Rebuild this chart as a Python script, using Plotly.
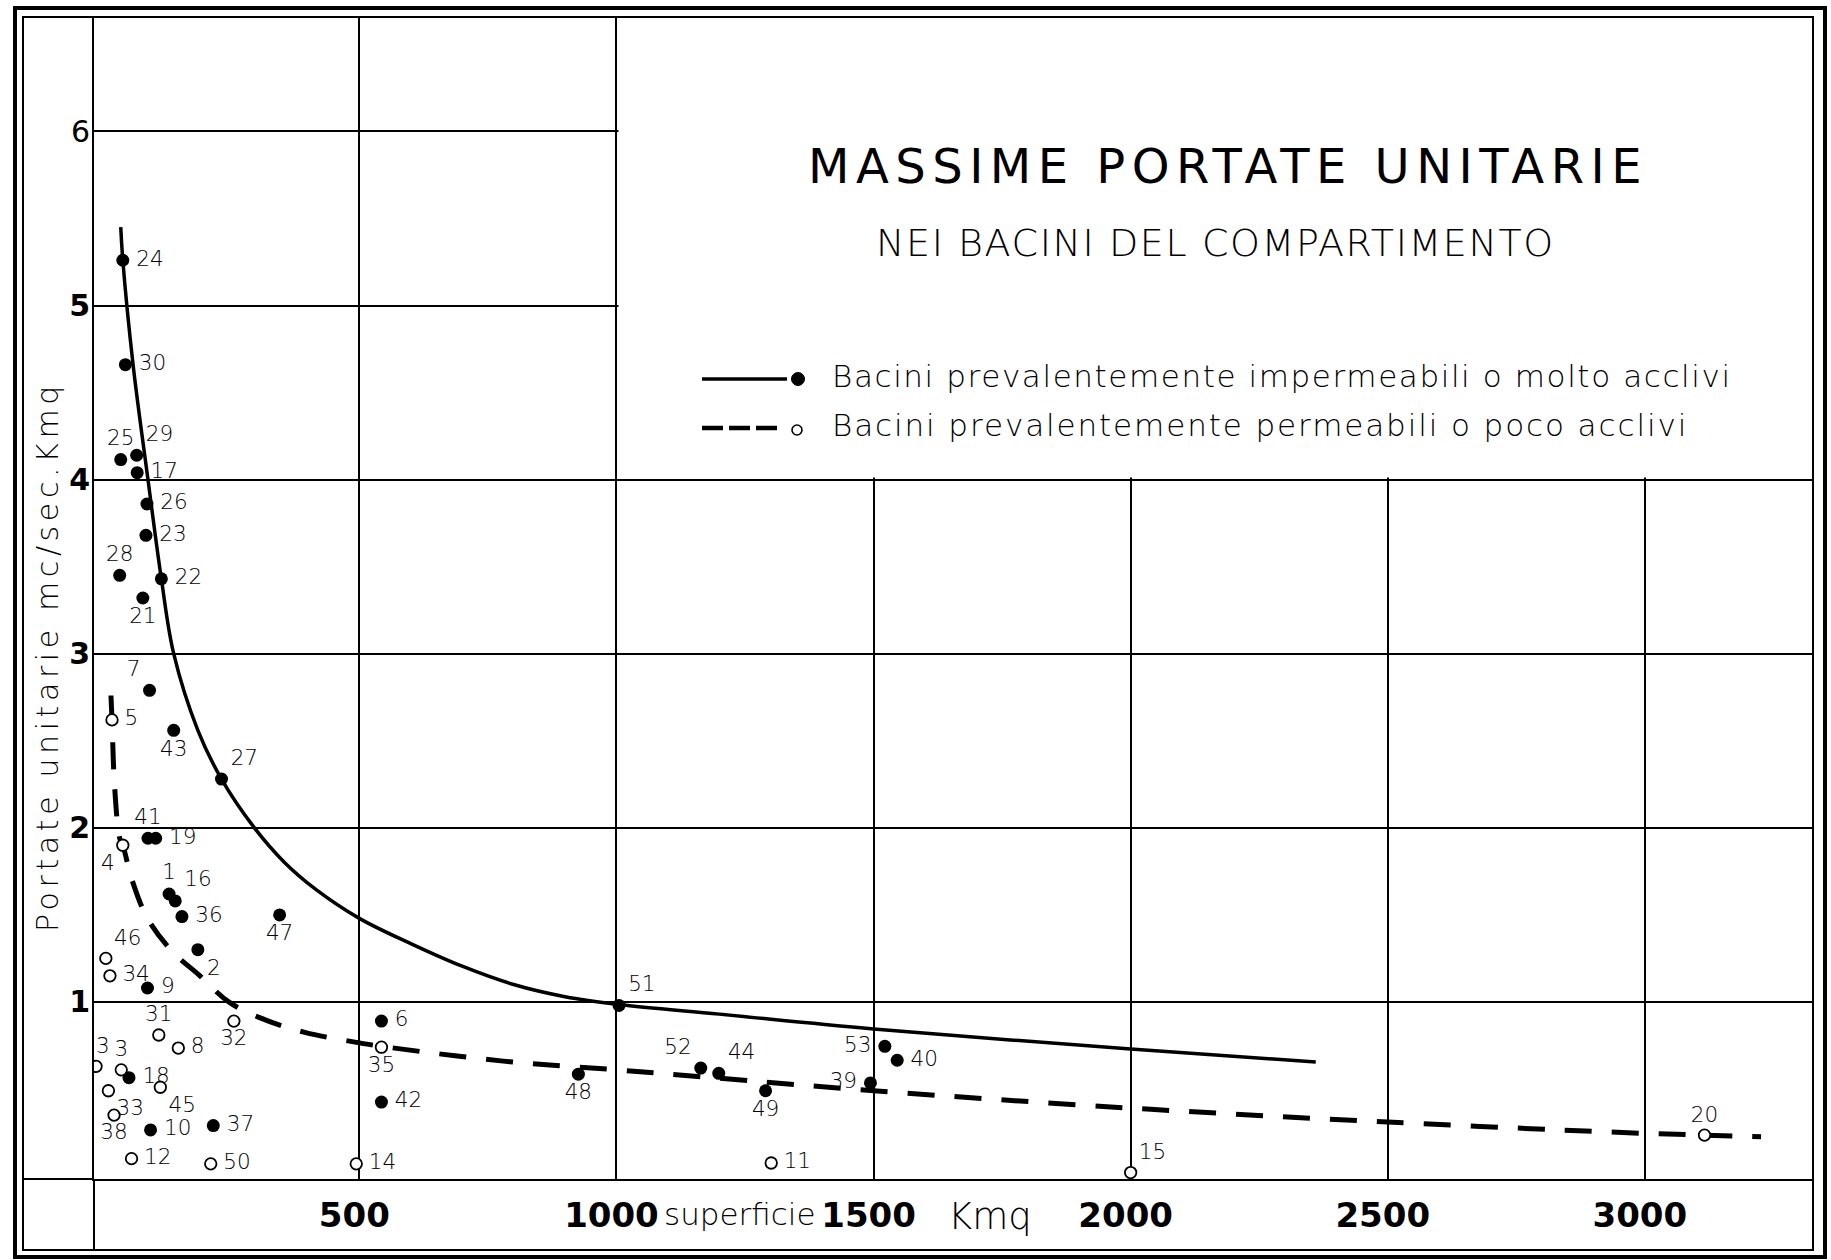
import plotly.graph_objects as go

# ---------------------------------------------------------------------------
# Data: maximum unit discharge (mc/sec per Kmq) against basin area (Kmq)
# ---------------------------------------------------------------------------
# Mostly impermeable or very steep basins (filled dots)
imp_ids = [24, 30, 25, 29, 17, 26, 23, 28, 22, 21, 7, 43, 27, 41, 19, 1, 16, 36,
           47, 2, 9, 18, 10, 37, 6, 42, 48, 51, 52, 44, 49, 53, 40, 39]
imp_area = [40, 45, 36, 67, 68, 87, 85, 34, 115, 79, 92, 139, 232, 89, 104, 130,
            142, 155, 345, 186, 88, 52, 94, 216, 543, 543, 926, 1005, 1164, 1199,
            1290, 1522, 1546, 1494]
imp_q = [5.26, 4.66, 4.115, 4.14, 4.04, 3.86, 3.68, 3.45, 3.43, 3.32, 2.79, 2.56,
         2.28, 1.94, 1.94, 1.62, 1.58, 1.49, 1.50, 1.30, 1.08, 0.565, 0.265, 0.29,
         0.89, 0.425, 0.585, 0.98, 0.62, 0.59, 0.49, 0.745, 0.665, 0.535]

# Mostly permeable or gently sloping basins (open circles)
perm_ids = [5, 4, 46, 34, 31, 32, 8, 13, 3, 33, 45, 38, 12, 50, 14, 35, 11, 15, 20]
perm_area = [19, 40, 7, 15, 110, 256, 148, -12, 37, 12, 113, 23, 57, 211, 494, 543,
             1301, 2000, 3116]
perm_q = [2.62, 1.90, 1.25, 1.15, 0.81, 0.89, 0.735, 0.63, 0.61, 0.49, 0.51, 0.35,
          0.10, 0.07, 0.07, 0.74, 0.075, 0.02, 0.235]

# Envelope curves
imp_curve_area = [36, 40, 60, 89, 115, 139, 186, 232, 296, 355, 416, 500, 600, 700,
                  800, 900, 1005, 1200, 1500, 2000, 2360]
imp_curve_q = [5.45, 5.26, 4.66, 4.0, 3.43, 3.0, 2.56, 2.28, 2.0, 1.80, 1.645, 1.48,
               1.335, 1.205, 1.10, 1.03, 0.985, 0.93, 0.845, 0.73, 0.655]

perm_curve_area = [17, 19, 24, 34, 40, 58, 88, 136, 188, 246, 306, 394, 500, 543,
                   780, 1000, 1185, 1500, 2000, 2500, 3000, 3116, 3226]
perm_curve_q = [2.76, 2.62, 2.24, 1.94, 1.90, 1.70, 1.48, 1.29, 1.155, 1.0, 0.91,
                0.825, 0.765, 0.745, 0.66, 0.61, 0.565, 0.49, 0.39, 0.31, 0.245,
                0.235, 0.225]

x_ticks = [500, 1000, 1500, 2000, 2500, 3000]
y_ticks = [1, 2, 3, 4, 5, 6]

# Where each basin number sits relative to its dot
label_side = {
    24: "middle right", 30: "middle right", 25: "top center", 29: "top right",
    17: "middle right", 26: "middle right", 23: "middle right", 28: "top center",
    22: "middle right", 21: "bottom center", 7: "top left", 43: "bottom center",
    27: "top right", 41: "top center", 19: "middle right", 1: "top center",
    16: "top right", 36: "middle right", 47: "bottom center", 2: "bottom right",
    9: "middle right", 18: "middle right", 10: "middle right", 37: "middle right",
    6: "middle right", 42: "middle right", 48: "bottom center", 51: "top right",
    52: "top left", 44: "top right", 49: "bottom center", 53: "middle left",
    40: "middle right", 39: "middle left",
    5: "middle right", 4: "bottom left", 46: "top right", 34: "middle right",
    31: "top center", 32: "bottom center", 8: "middle right", 13: "top center",
    3: "top center", 33: "bottom right", 45: "bottom right", 38: "bottom center",
    12: "middle right", 50: "middle right", 14: "middle right", 35: "bottom center",
    11: "middle right", 15: "top right", 20: "top center",
}

# ---------------------------------------------------------------------------
# Page geometry (pixels)
# ---------------------------------------------------------------------------
W, H = 1831, 1260
PL, PR, PT, PB = 94, 1813, 17, 1179          # plotting area
INNER = (23, 17, 1813, 1250)                  # thin inner frame
OUTER = (15, 8, 1825, 1257)                   # heavy outer frame
X_RANGE = [-16, 3327]
Y_RANGE = [-0.017, 6.657]


def px(xp):
    return (xp - PL) / (PR - PL)


def py(yp):
    return (PB - yp) / (PB - PT)


def padded(num, side):
    # a thin space keeps side labels clear of their dot
    if side == "middle right":
        return "\u2009" + str(num)
    if side == "middle left":
        return str(num) + "\u2009"
    return str(num)


FONT = "DejaVu Sans"
INK = "black"

fig = go.Figure()

fig.add_trace(go.Scatter(
    x=imp_curve_area, y=imp_curve_q, mode="lines",
    line=dict(color=INK, width=3.5, shape="spline", smoothing=1.0),
    hoverinfo="skip", showlegend=False))

fig.add_trace(go.Scatter(
    x=perm_curve_area, y=perm_curve_q, mode="lines",
    line=dict(color=INK, width=5, dash="27px,20px", shape="spline", smoothing=1.0),
    hoverinfo="skip", showlegend=False))

label_font = dict(family=FONT, size=21.5, color=INK, weight=300)

fig.add_trace(go.Scatter(
    x=imp_area, y=imp_q, mode="markers+text",
    text=[padded(i, label_side[i]) for i in imp_ids],
    textposition=[label_side[i] for i in imp_ids],
    textfont=label_font,
    marker=dict(size=13, color=INK, line=dict(width=0)),
    showlegend=False))

fig.add_trace(go.Scatter(
    x=perm_area, y=perm_q, mode="markers+text",
    text=[padded(i, label_side[i]) for i in perm_ids],
    textposition=[label_side[i] for i in perm_ids],
    textfont=label_font,
    marker=dict(size=11.5, color="white", line=dict(width=1.8, color=INK)),
    showlegend=False))

shapes = []
# blank title block: the grid stops around the heading and the key
shapes.append(dict(type="rect", xref="x", yref="y",
                   x0=1004, x1=X_RANGE[1], y0=4.012, y1=Y_RANGE[1],
                   fillcolor="white", line=dict(width=0), layer="between"))
# frames
shapes.append(dict(type="rect", xref="paper", yref="paper",
                   x0=px(OUTER[0]), x1=px(OUTER[2]), y0=py(OUTER[3]), y1=py(OUTER[1]),
                   line=dict(color=INK, width=4), layer="above"))
shapes.append(dict(type="rect", xref="paper", yref="paper",
                   x0=px(INNER[0]), x1=px(INNER[2]), y0=py(INNER[3]), y1=py(INNER[1]),
                   line=dict(color=INK, width=2), layer="above"))
# axis lines carried on into the label band and to the inner frame
shapes.append(dict(type="line", xref="paper", yref="paper",
                   x0=0, x1=0, y0=py(INNER[3]), y1=0,
                   line=dict(color=INK, width=2), layer="above"))
shapes.append(dict(type="line", xref="paper", yref="paper",
                   x0=px(INNER[0]), x1=0, y0=0, y1=0,
                   line=dict(color=INK, width=2), layer="above"))
# legend keys
shapes.append(dict(type="line", xref="paper", yref="paper",
                   x0=px(702), x1=px(787), y0=py(379), y1=py(379),
                   line=dict(color=INK, width=3.5)))
shapes.append(dict(type="circle", xref="paper", yref="paper",
                   x0=px(791.5), x1=px(804.5), y0=py(385.5), y1=py(372.5),
                   fillcolor=INK, line=dict(color=INK, width=1)))
shapes.append(dict(type="line", xref="paper", yref="paper",
                   x0=px(702), x1=px(781), y0=py(428), y1=py(428),
                   line=dict(color=INK, width=4.5, dash="21px,6px")))
shapes.append(dict(type="circle", xref="paper", yref="paper",
                   x0=px(792), x1=px(802), y0=py(435), y1=py(425),
                   fillcolor="white", line=dict(color=INK, width=1.6)))

annotations = []


def note(text, xp, yp, size, xanchor="center", yanchor="middle", angle=0,
         spacing=0, weight="normal"):
    if spacing:
        text = f'<span style="letter-spacing:{spacing}px">{text}</span>'
    annotations.append(dict(
        text=text, xref="paper", yref="paper", x=px(xp), y=py(yp),
        xanchor=xanchor, yanchor=yanchor, showarrow=False, textangle=angle,
        font=dict(family=FONT, size=size, color=INK, weight=weight)))


note("MASSIME PORTATE UNITARIE", 1228, 166, 48, spacing=6.5)
note("NEI BACINI DEL COMPARTIMENTO", 1215, 243, 38, spacing=1.6, weight=300)
note("Bacini prevalentemente impermeabili o molto acclivi", 830, 376, 31,
     xanchor="left", spacing=1.6, weight=300)
note("Bacini prevalentemente permeabili o poco acclivi", 830, 425, 31,
     xanchor="left", spacing=1.9, weight=300)
note("Portate unitarie mc/sec.Kmq", 47, 657, 30, angle=-90, spacing=4.6, weight=300)
note("superficie", 740, 1214, 31, weight=300)
note("Kmq", 990, 1216, 37, weight=300)

axis_common = dict(showgrid=True, gridcolor=INK, gridwidth=1.6, zeroline=False,
                   showline=True, linecolor=INK, linewidth=2, ticks="",
                   layer="below traces")

fig.update_layout(
    width=W, height=H,
    margin=dict(l=PL, r=W - PR, t=PT, b=H - PB, pad=0),
    paper_bgcolor="white", plot_bgcolor="white",
    shapes=shapes, annotations=annotations,
    xaxis=dict(range=X_RANGE, tickvals=x_ticks,
               ticktext=[f"<b>{v}</b>" for v in x_ticks],
               ticklabelstandoff=5, ticklabelshift=-5,
               tickfont=dict(family=FONT, size=34, color=INK), **axis_common),
    yaxis=dict(range=Y_RANGE, tickvals=y_ticks,
               ticktext=[str(v) if v == 6 else f"<b>{v}</b>" for v in y_ticks],
               ticklabelstandoff=-4,
               tickfont=dict(family=FONT, size=30, color=INK), **axis_common),
)

fig.write_html("out.html", include_plotlyjs=True, config={"displayModeBar": False})
